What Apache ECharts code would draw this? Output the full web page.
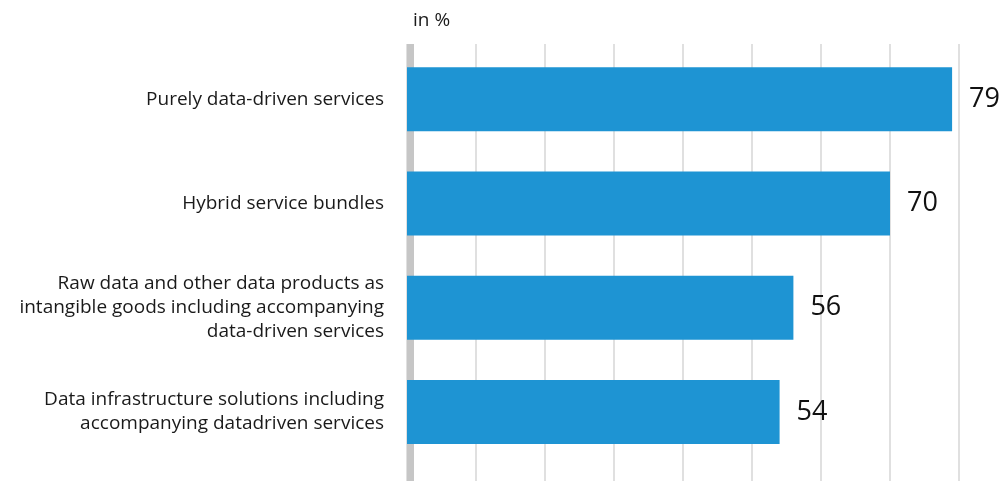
<!DOCTYPE html>
<html>
<head>
<meta charset="utf-8">
<script src="https://cdn.jsdelivr.net/npm/echarts@6/dist/echarts.min.js"></script>
<style>
  html, body { margin: 0; padding: 0; background: #ffffff; }
  #chart { width: 1001px; height: 481px; }
</style>
</head>
<body>
<div id="chart"></div>
<script>
// Categories, top to bottom
const categories = [
  'Purely data-driven services',
  'Hybrid service bundles',
  'Raw data and other data products as\nintangible goods including accompanying\ndata-driven services',
  'Data infrastructure solutions including\naccompanying datadriven services'
];
const values = [79, 70, 56, 54];
const unitLabel = 'in %';
const axisMin = 0;
const axisMax = 80;
const axisStep = 10;

const FONT = '"Open Sans", "Noto Sans", sans-serif';
const chart = echarts.init(document.getElementById('chart'), null, { renderer: 'canvas' });

chart.setOption({
  animation: false,
  backgroundColor: '#ffffff',
  title: {
    text: unitLabel,
    left: 408,
    top: 6,
    textStyle: { fontFamily: FONT, fontSize: 19, fontWeight: 'normal', color: '#1a1a1a' }
  },
  grid: [
    // background grid: vertical lines and thick baseline, full height
    { left: 407, right: 42, top: 44, bottom: 0, containLabel: false },
    // bars
    { left: 407, right: 42, top: 47, bottom: 17, containLabel: false }
  ],
  xAxis: [
    {
      gridIndex: 0, type: 'value', min: axisMin, max: axisMax, interval: axisStep,
      axisLine: { show: false }, axisTick: { show: false }, axisLabel: { show: false },
      splitLine: { show: true, lineStyle: { color: '#d6d6d6', width: 1.5 } }
    },
    {
      gridIndex: 1, type: 'value', min: axisMin, max: axisMax, interval: axisStep,
      axisLine: { show: false }, axisTick: { show: false }, axisLabel: { show: false },
      splitLine: { show: false }
    }
  ],
  yAxis: [
    {
      gridIndex: 0, type: 'value', min: 0, max: 1, offset: -3.5,
      axisLine: { show: true, lineStyle: { color: '#c6c6c6', width: 7, cap: 'butt' } },
      axisTick: { show: false }, axisLabel: { show: false }, splitLine: { show: false }
    },
    {
      gridIndex: 1, type: 'category', inverse: true, data: categories,
      axisLine: { show: false }, axisTick: { show: false }, splitLine: { show: false },
      axisLabel: {
        margin: 23, align: 'right',
        fontFamily: FONT, fontSize: 19, lineHeight: 24, color: '#1a1a1a'
      }
    }
  ],
  series: [
    {
      type: 'bar',
      xAxisIndex: 1, yAxisIndex: 1,
      data: values,
      barWidth: 64,
      z: 5,
      itemStyle: { color: '#1e94d3' },
      label: {
        show: true, position: 'right', distance: 17,
        fontFamily: FONT, fontSize: 27, color: '#111111'
      }
    }
  ]
});
</script>
</body>
</html>
